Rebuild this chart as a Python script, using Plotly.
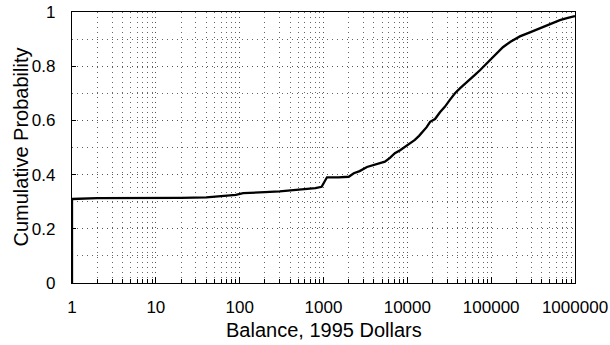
import plotly.graph_objects as go

# Empirical cumulative distribution of account balances (1995 dollars)
balance = [1, 1, 2, 5, 10, 20, 40, 60, 90, 110,
           150, 200, 300, 450, 600, 800, 950, 1100, 1500, 2000,
           2300, 2700, 3300, 4000, 4700, 5400, 6200, 7100, 8200, 9400,
           10800, 12300, 13800, 15400, 17000, 18700, 21400, 24500, 28000, 32000,
           37000, 43000, 49000, 56000, 64000, 74000, 85000, 97000, 115000, 138000,
           170000, 220000, 290000, 380000, 500000, 660000, 800000, 950000, 1000000]
cum_prob = [0, 0.31, 0.313, 0.313, 0.314, 0.314, 0.316, 0.32, 0.325, 0.332,
            0.333, 0.335, 0.338, 0.342, 0.345, 0.35, 0.355, 0.39, 0.39, 0.392,
            0.405, 0.413, 0.428, 0.435, 0.443, 0.448, 0.462, 0.479, 0.49, 0.503,
            0.515, 0.528, 0.543, 0.558, 0.575, 0.595, 0.605, 0.63, 0.65, 0.675,
            0.70, 0.72, 0.737, 0.752, 0.768, 0.786, 0.805, 0.825, 0.845, 0.87,
            0.89, 0.91, 0.925, 0.94, 0.955, 0.97, 0.977, 0.983, 0.985]

x_tick_vals = [1, 10, 100, 1000, 10000, 100000, 1000000]
x_tick_text = ["1", "10", "100", "1000", "10000", "100000", "1000000"]
y_tick_vals = [0, 0.2, 0.4, 0.6, 0.8, 1]
y_tick_text = ["0", "0.2", "0.4", "0.6", "0.8", "1"]
x_title = "Balance, 1995 Dollars"
y_title = "Cumulative Probability"

font_family = "Liberation Sans, Arial, sans-serif"
grid_dash = "1px,4px"

fig = go.Figure()
fig.add_trace(go.Scatter(
    x=balance, y=cum_prob, mode="lines",
    line=dict(color="black", width=2.3),
    showlegend=False,
))

fig.update_layout(
    width=610, height=345,
    margin=dict(l=72, r=35, t=12, b=62),
    paper_bgcolor="white", plot_bgcolor="white",
    font=dict(family=font_family, color="black", size=17),
)

# Axis titles placed as paper-anchored text
fig.add_annotation(text=x_title, xref="paper", yref="paper", x=0.5, y=0,
                   xanchor="center", yanchor="middle", yshift=-47,
                   showarrow=False, font=dict(size=20))
fig.add_annotation(text=y_title, xref="paper", yref="paper", x=0, y=0.5,
                   xanchor="center", yanchor="middle", xshift=-52,
                   textangle=-90, showarrow=False, font=dict(size=20))

fig.update_xaxes(
    type="log", range=[0, 6], automargin=False,
    tickvals=x_tick_vals, ticktext=x_tick_text,
    tickfont=dict(size=17),
    ticks="inside", ticklen=6, tickcolor="black",
    ticklabelstandoff=8,
    showline=True, linecolor="black", linewidth=1.2, mirror=True,
    showgrid=True, gridcolor="#555", griddash=grid_dash, gridwidth=1,
    minor=dict(dtick="D1", showgrid=True, gridcolor="#666", griddash=grid_dash,
               ticks="inside", ticklen=4, tickcolor="black"),
    zeroline=False,
)
fig.update_yaxes(
    range=[0, 1], automargin=False,
    tickvals=y_tick_vals, ticktext=y_tick_text,
    tickfont=dict(size=17),
    ticks="inside", ticklen=4, tickcolor="black",
    ticklabelstandoff=12,
    showline=True, linecolor="black", linewidth=1.2, mirror=True,
    showgrid=True, gridcolor="#555", griddash=grid_dash, gridwidth=1,
    minor=dict(dtick=0.1, showgrid=True, gridcolor="#666", griddash=grid_dash),
    zeroline=False,
)

fig.write_html("out.html")
